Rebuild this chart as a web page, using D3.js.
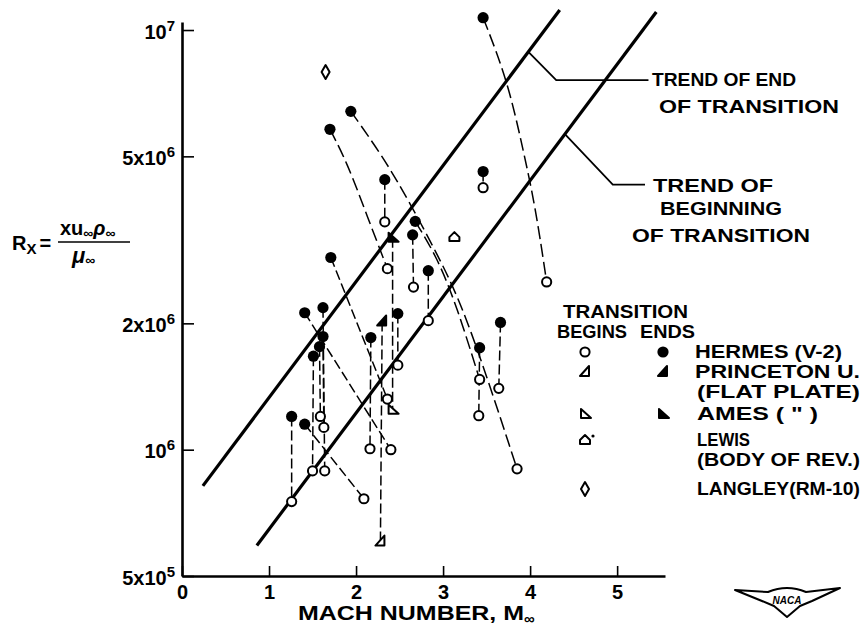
<!DOCTYPE html>
<html>
<head>
<meta charset="utf-8">
<script src="https://cdn.jsdelivr.net/npm/d3@7"></script>
<style>
body { margin: 0; background: #fff; }
svg text { font-family: "Liberation Sans", "DejaVu Sans", sans-serif; font-weight: bold; fill: #000; }
</style>
</head>
<body>
<script>
// values: [Mach number, Reynolds number]
var hermesEnd = [
  [3.46, 1.07e7], [1.94, 6.4e6], [1.70, 5.8e6], [2.33, 4.4e6], [3.46, 4.6e6],
  [2.68, 3.5e6], [2.65, 3.25e6], [1.71, 2.87e6], [2.83, 2.67e6], [1.41, 2.12e6],
  [1.62, 2.18e6], [2.48, 2.11e6], [3.66, 2.01e6], [1.62, 1.86e6], [1.58, 1.76e6],
  [1.51, 1.67e6], [2.17, 1.85e6], [3.42, 1.75e6], [1.26, 1.20e6], [1.41, 1.15e6]
];
var hermesBegin = [
  [2.33, 3.49e6], [3.46, 4.21e6], [2.36, 2.70e6], [2.66, 2.44e6], [4.19, 2.51e6],
  [2.83, 2.03e6], [2.48, 1.59e6], [3.42, 1.47e6], [3.64, 1.40e6], [2.36, 1.32e6],
  [3.41, 1.205e6], [1.59, 1.20e6], [1.63, 1.13e6], [2.16, 1.005e6], [2.40, 1.0e6],
  [3.85, 9.0e5], [1.50, 8.9e5], [1.64, 8.9e5], [2.09, 7.64e5], [1.26, 7.52e5]
];
// [end index, begin index]
var hermesLinks = [[3,0],[4,1],[6,3],[8,5],[9,14],[10,17],[13,12],[14,11],[15,16],
  [11,6],[12,8],[16,13],[17,10],[18,19],[19,18],[7,9]];
// faired dashed curves, end -> begin through points along the way
var hermesCurves = [
  {end: 0, begin: 4, via: [[3.74, 7.6e6], [3.92, 5.18e6], [4.06, 3.8e6]]},
  {end: 1, begin: 15, via: [[2.31, 4.99e6], [2.62, 3.87e6], [2.97, 2.83e6], [3.28, 2.07e6]]},
  {end: 2, begin: 2, via: [[1.90, 4.82e6], [2.13, 3.59e6]]},
  {end: 5, begin: 7, via: [[2.93, 2.88e6], [3.16, 2.19e6]]}
];
var princetonBegin = [2.28, 6.04e5], princetonEnd = [2.30, 2.02e6];
var amesBegin = [2.42, 1.245e6], amesEnd = [2.42, 3.2e6];
var lewisBegin = [3.13, 3.21e6];
var langley = [1.65, 7.94e6];

var trendEnd = [[0.24, 8.2e5], [4.34, 1.116e7]];
var trendBegin = [[0.86, 5.91e5], [5.45, 1.104e7]];

var xTicks = [0, 1, 2, 3, 4, 5];
var yTicks = [5e5, 1e6, 2e6, 5e6, 1e7];
var yTickLabels = [["5x10", "5"], ["10", "6"], ["2x10", "6"], ["5x10", "6"], ["10", "7"]];

var W = 863, H = 629;
var svg = d3.select("body").append("svg").attr("width", W).attr("height", H);

var x = d3.scaleLinear().domain([0, 5.55]).range([182, 665]);
var y = d3.scaleLog().domain([5e5, 1.045e7]).range([576, 22]);
var px = function(d) { return x(d[0]); }, py = function(d) { return y(d[1]); };

// axes
var xAxis = svg.append("g").attr("transform", "translate(0,576)")
  .call(d3.axisBottom(x).tickValues(xTicks).tickSizeInner(-10).tickSizeOuter(0).tickPadding(9).tickFormat(d3.format("d")));
xAxis.select(".domain").attr("stroke-width", 2.6);
xAxis.selectAll(".tick line").attr("stroke-width", 1.6);
xAxis.selectAll(".tick text").attr("font-size", 20).attr("font-family", null);

var yAxis = svg.append("g").attr("transform", "translate(182,0)")
  .call(d3.axisLeft(y).tickValues(yTicks).tickSizeInner(-12).tickSizeOuter(0).tickFormat(""));
yAxis.select(".domain").attr("stroke-width", 2.6);
yAxis.selectAll(".tick line").attr("stroke-width", 1.6);
yAxis.selectAll(".tick text").remove();
yAxis.selectAll(".tick").each(function(d, i) {
  var t = d3.select(this).append("text").attr("x", -7).attr("y", 8)
    .attr("text-anchor", "end").attr("font-size", 20).attr("fill", "#000");
  t.append("tspan").text(yTickLabels[i][0]);
  t.append("tspan").attr("dy", -8).attr("font-size", 15).text(yTickLabels[i][1]);
});

// axis titles
var xt = svg.append("text").attr("x", 298).attr("y", 620).attr("font-size", 20);
xt.append("tspan").attr("textLength", 226).attr("lengthAdjust", "spacingAndGlyphs").text("MACH NUMBER, M");
xt.append("tspan").attr("dy", 4).attr("font-size", 15).text("\u221E");

var yl = svg.append("g");
var rx = yl.append("text").attr("x", 12).attr("y", 250).attr("font-size", 20);
rx.append("tspan").text("R");
rx.append("tspan").attr("dy", 4).attr("font-size", 15).text("X");
rx.append("tspan").attr("dy", -4).attr("dx", 3).text("=");
var num = yl.append("text").attr("x", 60).attr("y", 235).attr("font-size", 20);
num.append("tspan").text("xu");
num.append("tspan").attr("dy", 3).attr("font-size", 14).text("\u221E");
num.append("tspan").attr("dy", -3).attr("font-style", "italic").text("\u03C1");
num.append("tspan").attr("dy", 3).attr("font-size", 14).text("\u221E");
yl.append("line").attr("x1", 58).attr("x2", 130).attr("y1", 242).attr("y2", 242).attr("stroke", "#000").attr("stroke-width", 1.6);
var den = yl.append("text").attr("x", 72).attr("y", 263).attr("font-size", 22);
den.append("tspan").attr("font-style", "italic").text("\u03BC");
den.append("tspan").attr("dy", 2).attr("font-size", 14).text("\u221E");

// trend lines
var line = d3.line().x(px).y(py);
[trendEnd, trendBegin].forEach(function(t) {
  svg.append("path").attr("d", line(t)).attr("fill", "none").attr("stroke", "#000").attr("stroke-width", 3.2);
});

// leader lines to the trend labels (anchored on the trend lines)
function onTrend(t, m) {
  var f = (m - t[0][0]) / (t[1][0] - t[0][0]);
  var l = Math.log10(t[0][1]) + f * (Math.log10(t[1][1]) - Math.log10(t[0][1]));
  return [m, Math.pow(10, l)];
}
var leaders = [
  [onTrend(trendEnd, 3.98), [4.30, 7.6e6], [5.36, 7.6e6]],
  [onTrend(trendBegin, 4.40), [4.95, 4.28e6], [5.32, 4.28e6]]
];
leaders.forEach(function(l) {
  svg.append("path").attr("d", line(l)).attr("fill", "none").attr("stroke", "#000").attr("stroke-width", 1.8);
});

// connectors
var dash = "10,4";
hermesLinks.forEach(function(p) {
  svg.append("path").attr("d", line([hermesEnd[p[0]], hermesBegin[p[1]]]))
    .attr("fill", "none").attr("stroke", "#000").attr("stroke-width", 1.5).attr("stroke-dasharray", dash);
});
var curve = d3.line().x(px).y(py).curve(d3.curveBasis);
hermesCurves.forEach(function(c) {
  var pts = [hermesEnd[c.end]].concat(c.via, [hermesBegin[c.begin]]);
  svg.append("path").attr("d", curve(pts)).attr("fill", "none").attr("stroke", "#000")
    .attr("stroke-width", 1.5).attr("stroke-dasharray", "13,5");
});
[[princetonEnd, princetonBegin], [amesEnd, amesBegin]].forEach(function(p) {
  svg.append("path").attr("d", line(p)).attr("fill", "none").attr("stroke", "#000")
    .attr("stroke-width", 1.5).attr("stroke-dasharray", dash);
});

// symbols
var shapes = {
  princeton: "M-5,4L4,4L4,-6Z",
  ames: "M-4,-5L-4,4L6,4Z",
  lewis: "M-5,4L-5,0L0,-5L5,0L5,4Z",
  langley: "M0,-7L4,0L0,7L-4,0Z"
};
function mark(g, kind, filled, cx, cy) {
  if (kind === "hermes") {
    g.append("circle").attr("cx", cx).attr("cy", cy).attr("r", filled ? 5.6 : 4.6)
      .attr("fill", filled ? "#000" : "#fff").attr("stroke", "#000").attr("stroke-width", filled ? 0 : 2);
  } else {
    g.append("path").attr("d", shapes[kind]).attr("transform", "translate(" + cx + "," + cy + ")")
      .attr("fill", filled ? "#000" : "#fff").attr("stroke", "#000").attr("stroke-width", 2).attr("stroke-linejoin", "round");
  }
}
var marks = svg.append("g");
hermesBegin.forEach(function(d) { mark(marks, "hermes", false, px(d), py(d)); });
hermesEnd.forEach(function(d) { mark(marks, "hermes", true, px(d), py(d)); });
mark(marks, "princeton", false, px(princetonBegin), py(princetonBegin));
mark(marks, "princeton", true, px(princetonEnd), py(princetonEnd));
mark(marks, "ames", false, px(amesBegin), py(amesBegin));
mark(marks, "ames", true, px(amesEnd), py(amesEnd));
mark(marks, "lewis", false, px(lewisBegin), py(lewisBegin));
mark(marks, "langley", false, px(langley), py(langley));

// labels
var labels = [
  ["TREND OF END", 652, 80, 144], ["OF TRANSITION", 659, 107, 180],
  ["TREND OF", 653, 186, 120], ["BEGINNING", 660, 209, 122], ["OF TRANSITION", 632, 236, 178],
  ["TRANSITION", 563, 312, 125], ["BEGINS", 557, 332, 70], ["ENDS", 640, 332, 55],
  ["HERMES (V-2)", 695, 352, 147], ["PRINCETON U.", 695, 372, 165], ["(FLAT PLATE)", 697, 392, 163],
  ["AMES  ( \" )", 697, 414, 121], ["LEWIS", 697, 440, 53], ["(BODY OF REV.)", 697, 460, 163],
  ["LANGLEY(RM-10)", 697, 489, 163]
];
labels.forEach(function(l) {
  svg.append("text").attr("x", l[1]).attr("y", l[2]).attr("dy", "0.36em").attr("font-size", 18)
    .attr("textLength", l[3]).attr("lengthAdjust", "spacingAndGlyphs").text(l[0]);
});

// legend symbols
var lg = svg.append("g");
var legendRows = [["hermes", 352, true], ["princeton", 372, true], ["ames", 414, true], ["lewis", 440, false], ["langley", 489, false]];
legendRows.forEach(function(r) {
  mark(lg, r[0], false, 585, r[1]);
  if (r[2]) mark(lg, r[0], true, 663, r[1]);
});
lg.append("circle").attr("cx", 593).attr("cy", 436).attr("r", 1.6).attr("fill", "#000");

// NACA badge
var badge = svg.append("g");
badge.append("path")
  .attr("d", "M735,590L768,592Q787,584 806,592L840,588L812,601L800,606L787,617L774,606L762,601Z")
  .attr("fill", "#fff").attr("stroke", "#000").attr("stroke-width", 2).attr("stroke-linejoin", "round");
badge.append("text").attr("x", 787).attr("y", 604).attr("text-anchor", "middle").attr("font-size", 10)
  .attr("font-style", "italic").text("NACA");
</script>
</body>
</html>
